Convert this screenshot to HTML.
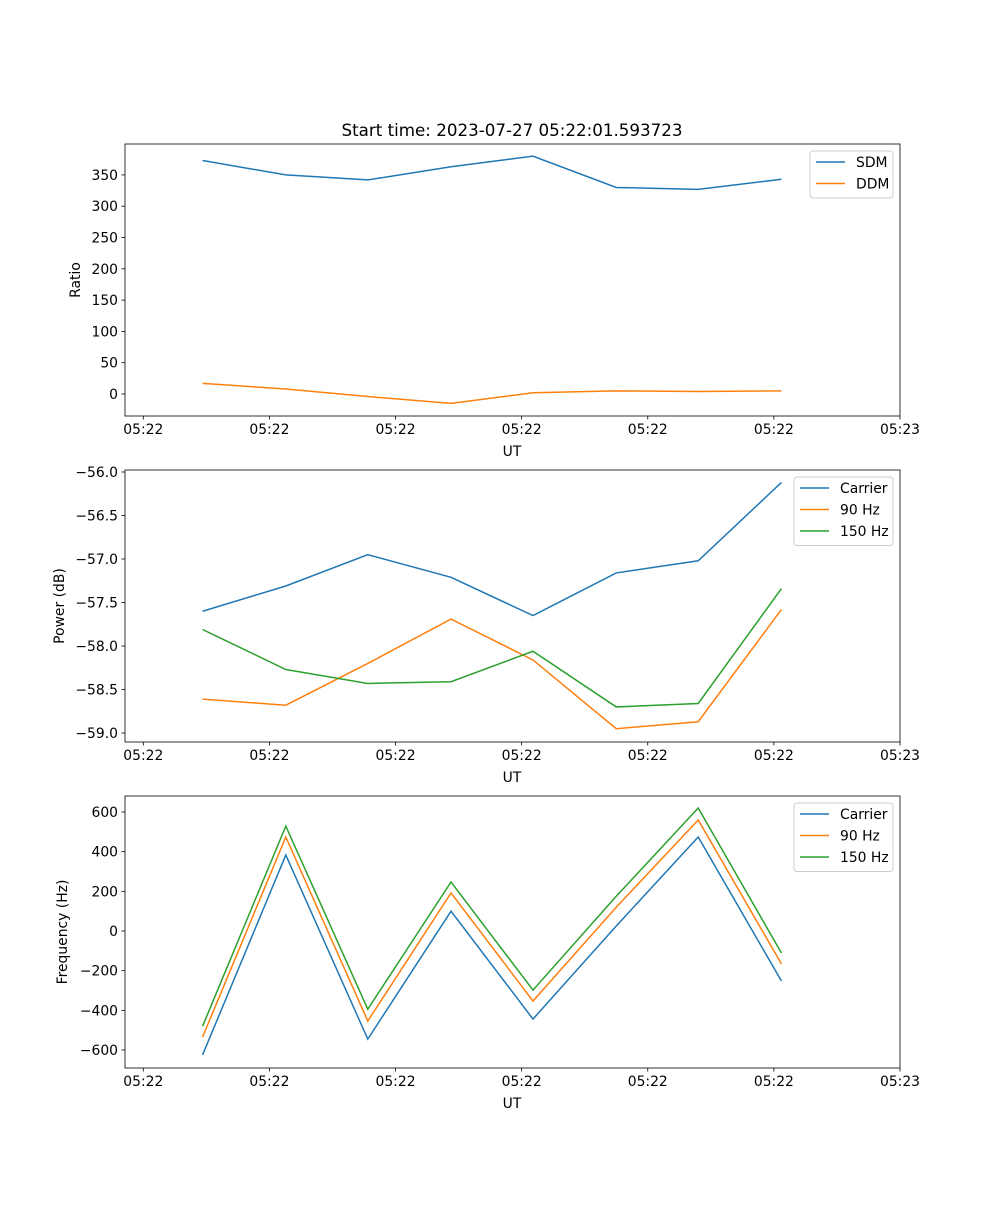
<!DOCTYPE html>
<html><head><meta charset="utf-8"><style>
body{margin:0;background:#fff}
svg text{font-family:"DejaVu Sans","Liberation Sans",sans-serif;font-size:13.9px;fill:#000}
</style></head><body>
<svg id="fig" width="1000" height="1200" xmlns="http://www.w3.org/2000/svg">
<rect width="1000" height="1200" fill="#fff"/>
<text x="512" y="136" text-anchor="middle" style="font-size:16.7px">Start time: 2023-07-27 05:22:01.593723</text>
</svg>
<script>
const times=[4.7,11.3,17.8,24.4,30.9,37.5,44.0,50.6];
const xTicks=[0,10,20,30,40,50,60];
const xTickLabels=["05:22","05:22","05:22","05:22","05:22","05:22","05:23"];
const sdm=[373,350,342,363,380,330,327,343];
const ddm=[17,8,-4,-15,2,5,4,5];
const powCarrier=[-57.60,-57.31,-56.95,-57.21,-57.65,-57.16,-57.02,-56.12];
const pow90=[-58.61,-58.68,-58.20,-57.69,-58.16,-58.95,-58.87,-57.58];
const pow150=[-57.81,-58.27,-58.43,-58.41,-58.06,-58.70,-58.66,-57.34];
const freqCarrier=[-625,383,-545,100,-444,25,474,-252];
const freq90=[-535,474,-454,192,-353,120,560,-166];
const freq150=[-480,529,-394,247,-298,175,620,-111];
const ticks1=[0,50,100,150,200,250,300,350];
const ticks2=[-59.0,-58.5,-58.0,-57.5,-57.0,-56.5,-56.0];
const ticks3=[-600,-400,-200,0,200,400,600];

const NS="http://www.w3.org/2000/svg";
const svg=document.getElementById('fig');
function mk(tag,attrs,parent){const e=document.createElementNS(NS,tag);for(const k in attrs)e.setAttribute(k,attrs[k]);(parent||svg).appendChild(e);return e;}
const L=125,R=900,xmin=-1.45,xmax=60.0;
const xs=v=>L+(v-xmin)/(xmax-xmin)*(R-L);
const colors=["#1f77b4","#ff7f0e","#2ca02c"];

function panel(name,top,bot,ymin,ymax,yt,fmt,ylabel,ylx,series,names,lg){
  const ys=v=>bot-(v-ymin)/(ymax-ymin)*(bot-top);
  const g=mk('g',{});
  
  
  series.forEach((s,i)=>{
    const p=mk('polyline',{points:s.map((v,j)=>xs(times[j])+','+ys(v)).join(' '),fill:'none',stroke:colors[i],'stroke-width':1.5},g);
    
    
  });
  const fr=mk('rect',{x:L,y:top,width:R-L,height:bot-top,fill:'none',stroke:'#000','stroke-width':0.8},g);
  
  
  xTicks.forEach((t,i)=>{
    const x=xs(t);
    mk('line',{x1:x,x2:x,y1:bot,y2:bot+3.5,stroke:'#000','stroke-width':0.8},g);
    const tx=mk('text',{x:x,y:bot+18,'text-anchor':'middle'},g);tx.textContent=xTickLabels[i];
    
    
  });
  yt.forEach(t=>{
    const y=ys(t);
    mk('line',{x1:L-3.5,x2:L,y1:y,y2:y,stroke:'#000','stroke-width':0.8},g);
    const tx=mk('text',{x:L-7,y:y+5,'text-anchor':'end'},g);tx.textContent=fmt(t);
    
    
  });
  const xl=mk('text',{x:512,y:bot+40,'text-anchor':'middle'},g);xl.textContent='UT';
  
  
  const yl=mk('text',{x:ylx,y:(top+bot)/2,'text-anchor':'middle',transform:`rotate(-90 ${ylx} ${(top+bot)/2})`},g);yl.textContent=ylabel;
  
  
  const lgG=mk('g',{},g);
  
  
  mk('rect',{x:lg,y:top+7,width:893-lg,height:names.length*21.5+4,rx:3,fill:'#fff','fill-opacity':0.8,stroke:'#ccc'},lgG);
  names.forEach((n,i)=>{
    const y=top+18+i*21.5;
    mk('line',{x1:lg+6,x2:lg+35,y1:y,y2:y,stroke:colors[i],'stroke-width':1.5},lgG);
    const t=mk('text',{x:lg+46,y:y+5},lgG);t.textContent=n;
    
    
  });
}
panel('ratio-panel',144,416,-35.1,399.4,ticks1,t=>String(t),'Ratio',80,[sdm,ddm],['SDM','DDM'],810);
panel('power-panel',470,742,-59.103,-55.977,ticks2,t=>t.toFixed(1).replace('-','\u2212'),'Power (dB)',64,[powCarrier,pow90,pow150],['Carrier','90 Hz','150 Hz'],794);
panel('frequency-panel',796,1068,-690.7,680.7,ticks3,t=>String(t).replace('-','\u2212'),'Frequency (Hz)',67,[freqCarrier,freq90,freq150],['Carrier','90 Hz','150 Hz'],794);
</script>
</body></html>
